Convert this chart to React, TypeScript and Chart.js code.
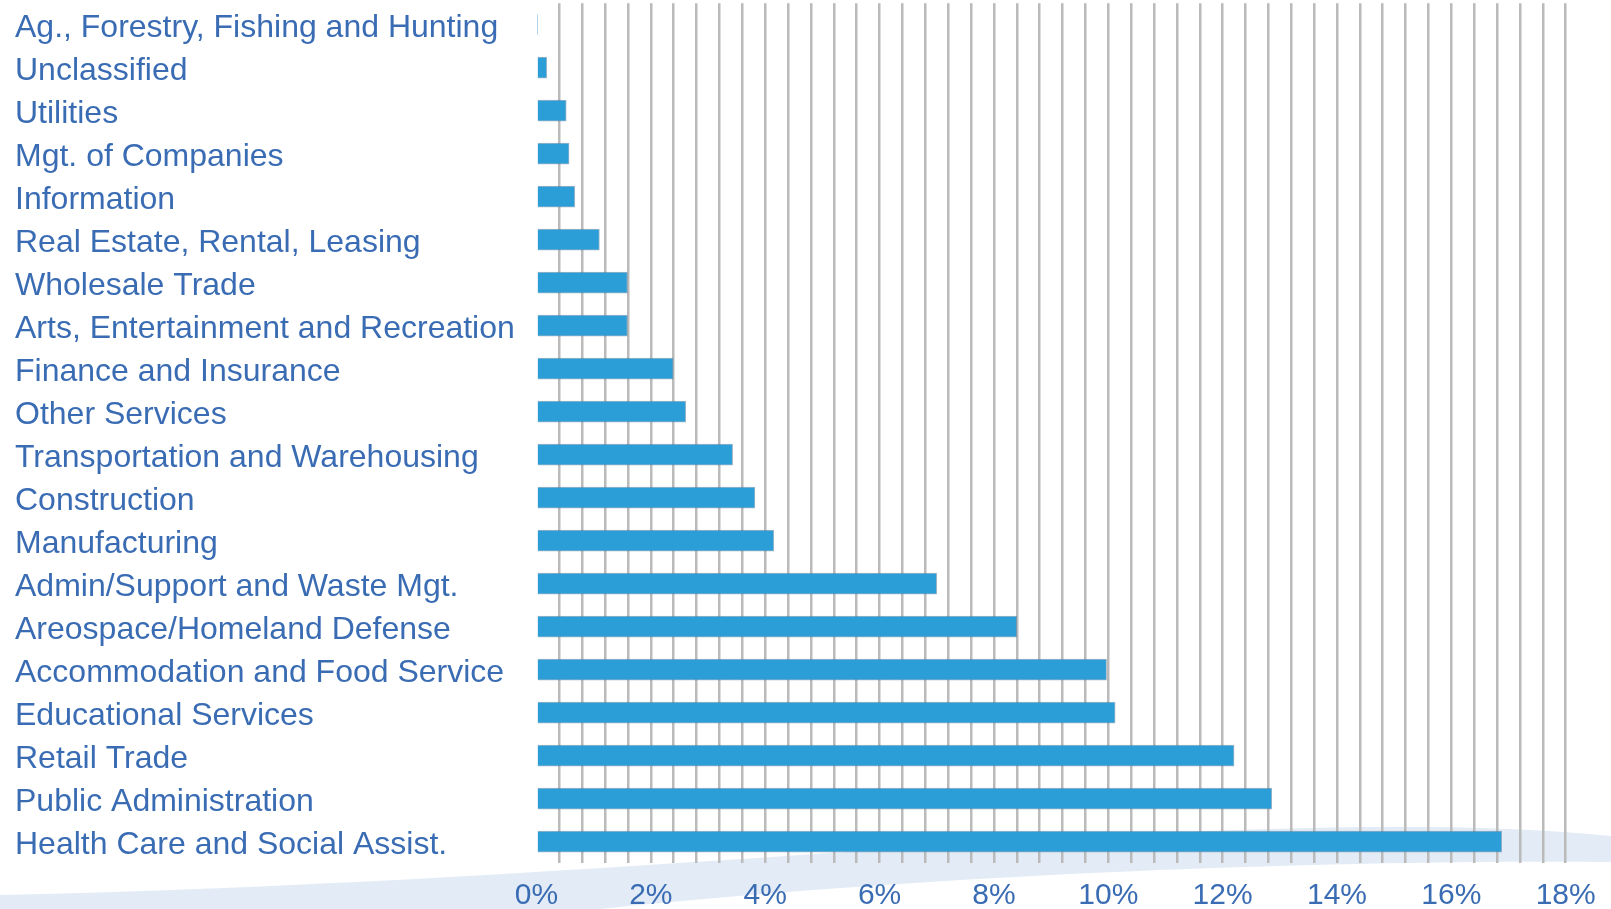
import React, { useEffect, useRef } from "react";
import { Chart, registerables } from "chart.js";

Chart.register(...registerables);

const categories = [
  "Ag., Forestry, Fishing and Hunting",
  "Unclassified",
  "Utilities",
  "Mgt. of Companies",
  "Information",
  "Real Estate, Rental, Leasing",
  "Wholesale Trade",
  "Arts, Entertainment and Recreation",
  "Finance and Insurance",
  "Other Services",
  "Transportation and Warehousing",
  "Construction",
  "Manufacturing",
  "Admin/Support and Waste Mgt.",
  "Areospace/Homeland Defense",
  "Accommodation and Food Service",
  "Educational Services",
  "Retail Trade",
  "Public Administration",
  "Health Care and Social Assist.",
];

const shares = [
  0.02, 0.18, 0.52, 0.57, 0.67, 1.1, 1.59, 1.59, 2.39, 2.61, 3.43, 3.82, 4.15,
  7.0, 8.4, 9.97, 10.12, 12.2, 12.86, 16.88,
];

const tickValues = [0, 2, 4, 6, 8, 10, 12, 14, 16, 18];
const tickLabels = ["0%", "2%", "4%", "6%", "8%", "10%", "12%", "14%", "16%", "18%"];
const gridStep = 0.4;
const axisMax = 18;

const FONT = "'Liberation Sans', Arial, sans-serif";
const TEXT_COLOR = "#3a6cb4";

const wavePlugin = {
  id: "bgWave",
  beforeDraw(chart: any) {
    const { ctx, width: w, height: h } = chart;
    const sx = w / 1611;
    const sy = h / 909;
    ctx.save();
    ctx.fillStyle = "#e3ecf6";
    ctx.beginPath();
    ctx.moveTo(0, 895 * sy);
    ctx.bezierCurveTo(700 * sx, 880 * sy, 1250 * sx, 800 * sy, 1611 * sx, 836 * sy);
    ctx.lineTo(1611 * sx, 862 * sy);
    ctx.bezierCurveTo(1400 * sx, 860 * sy, 1000 * sx, 868 * sy, 600 * sx, 909 * sy);
    ctx.lineTo(0, 909 * sy);
    ctx.closePath();
    ctx.fill();
    ctx.restore();
  },
};

export default function App() {
  const canvasRef = useRef<HTMLCanvasElement | null>(null);

  useEffect(() => {
    const canvas = canvasRef.current;
    if (!canvas) return;
    const chart = new Chart(canvas, {
      type: "bar",
      data: {
        labels: categories,
        datasets: [
          {
            data: shares,
            backgroundColor: "#2b9ed8",
            borderColor: "rgba(80,120,155,0.55)",
            borderWidth: 1,
            barThickness: 21,
          },
        ],
      },
      plugins: [wavePlugin],
      options: {
        indexAxis: "y",
        animation: false,
        responsive: false,
        devicePixelRatio: 1,
        layout: { padding: { left: 15, right: 45.3, top: 3.2, bottom: 0 } },
        plugins: {
          legend: { display: false },
          tooltip: { enabled: false },
        },
        scales: {
          x: {
            type: "linear",
            min: 0,
            max: axisMax,
            afterBuildTicks: (scale: any) => {
              const n = Math.round(axisMax / gridStep);
              scale.ticks = Array.from({ length: n + 1 }, (_, i) => ({
                value: +(i * gridStep).toFixed(4),
              }));
            },
            afterFit: (scale: any) => {
              scale.height = 909 - 863.2;
              scale.paddingLeft = 0;
              scale.paddingRight = 0;
            },
            grid: {
              drawTicks: false,
              lineWidth: 2.5,
              color: (ctx: any) =>
                ctx.tick && Math.abs(ctx.tick.value) < 1e-6 ? "rgba(0,0,0,0)" : "#bababa",
            },
            border: { display: false },
            ticks: {
              autoSkip: false,
              maxRotation: 0,
              minRotation: 0,
              padding: 15,
              color: TEXT_COLOR,
              font: { family: FONT, size: 30 },
              callback: (value: any) => {
                const i = tickValues.findIndex((t) => Math.abs(t - Number(value)) < 1e-6);
                return i >= 0 ? tickLabels[i] : "";
              },
            },
          },
          y: {
            afterFit: (scale: any) => {
              scale.width = 536.5 - 15;
              scale.paddingTop = 0;
              scale.paddingBottom = 0;
            },
            grid: { display: false, drawTicks: false },
            border: { display: false },
            ticks: {
              autoSkip: false,
              crossAlign: "far",
              padding: 0,
              labelOffset: 3.5,
              color: TEXT_COLOR,
              font: { family: FONT, size: 32 },
            },
          },
        },
      },
    } as any);
    return () => chart.destroy();
  }, []);

  return (
    <div style={{ position: "fixed", left: 0, top: 0, width: 1611, height: 909, background: "#ffffff" }}>
      <canvas ref={canvasRef} width={1611} height={909} style={{ display: "block" }} />
    </div>
  );
}
